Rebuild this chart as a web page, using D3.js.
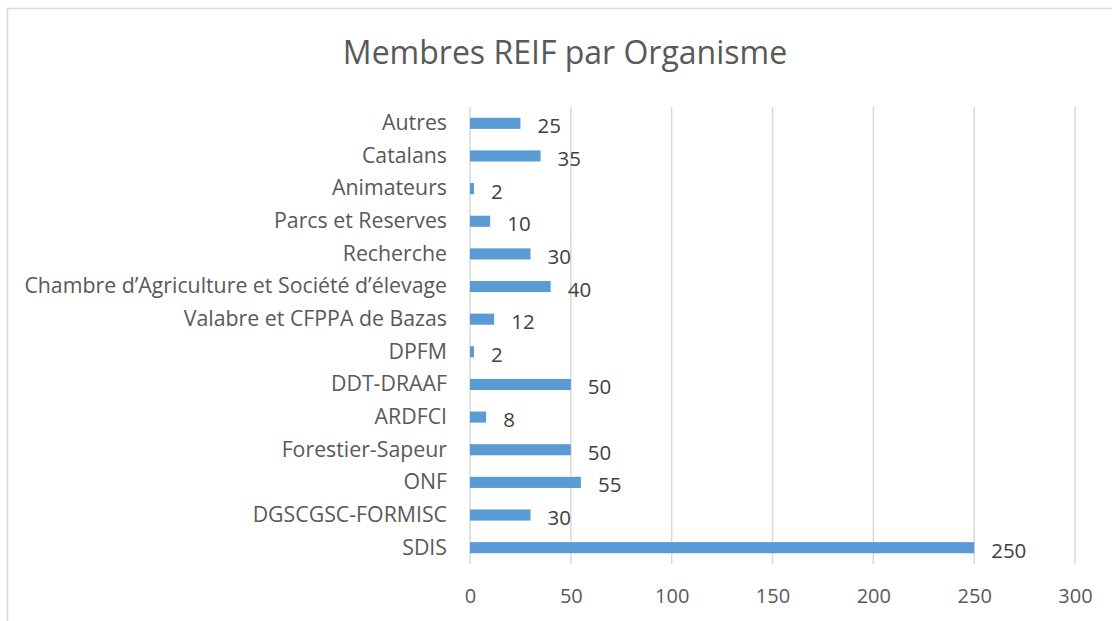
<!DOCTYPE html>
<html><head><meta charset="utf-8">
<script src="https://cdn.jsdelivr.net/npm/d3@7"></script>
<style>body{margin:0;background:#fff;} text{font-family:"Open Sans",sans-serif;}</style>
</head><body>
<svg id="c" width="1112" height="621"></svg>
<script>
const categories = ["Autres","Catalans","Animateurs","Parcs et Reserves","Recherche","Chambre d’Agriculture et Société d’élevage","Valabre et CFPPA de Bazas","DPFM","DDT-DRAAF","ARDFCI","Forestier-Sapeur","ONF","DGSCGSC-FORMISC","SDIS"];
const values = [25,35,2,10,30,40,12,2,50,8,50,55,30,250];
const xTicks = [0,50,100,150,200,250,300];
const title = "Membres REIF par Organisme";

const svg = d3.select("#c");
svg.append("rect").attr("x",7.5).attr("y",8.5).attr("width",1200).attr("height",700)
  .attr("fill","#fff").attr("stroke","#d9d9d9").attr("stroke-width",1.5);

const x = d3.scaleLinear().domain([0,300]).range([470,1075]);
const y = d3.scaleBand().domain(categories).range([107,564]).paddingInner(0.66).paddingOuter(0.33);

svg.append("g").selectAll("line").data(xTicks).join("line")
  .attr("x1",d=>x(d)).attr("x2",d=>x(d)).attr("y1",107).attr("y2",564)
  .attr("stroke","#d9d9d9").attr("stroke-width",1.5);

const xa = svg.append("g").attr("transform","translate(0,564)")
  .call(d3.axisBottom(x).tickValues(xTicks).tickSize(0).tickPadding(25));
xa.select(".domain").remove();
xa.selectAll("text").attr("font-size",20).attr("fill","#595959").attr("font-family","'Open Sans',sans-serif");

const ya = svg.append("g").attr("transform","translate(470,0)")
  .call(d3.axisLeft(y).tickSize(0).tickPadding(23));
ya.select(".domain").remove();
ya.selectAll("text").attr("font-size",21.3).attr("fill","#595959").attr("font-family","'Open Sans',sans-serif");

svg.append("g").selectAll("rect").data(values).join("rect")
  .attr("x",x(0)).attr("y",(d,i)=>y(categories[i]))
  .attr("width",d=>x(d)-x(0)).attr("height",y.bandwidth())
  .attr("fill","#5b9bd5");

svg.append("g").selectAll("text").data(values).join("text")
  .attr("x",d=>x(d)+17).attr("y",(d,i)=>y(categories[i])+y.bandwidth()/2+10)
  .attr("font-size",20.5).attr("fill","#404040").text(d=>d);

svg.append("text").attr("x",565).attr("y",64).attr("text-anchor","middle")
  .attr("font-size",32).attr("fill","#595959").text(title);
</script>
</body></html>
